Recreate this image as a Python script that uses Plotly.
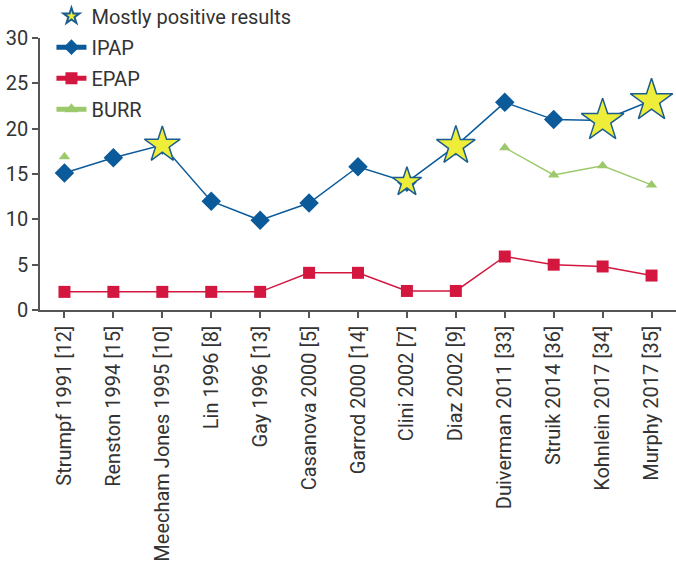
import plotly.graph_objects as go

studies = ["Strumpf 1991 [12]", "Renston 1994 [15]", "Meecham Jones 1995 [10]", "Lin 1996 [8]",
           "Gay 1996 [13]", "Casanova 2000 [5]", "Garrod 2000 [14]", "Clini 2002 [7]", "Diaz 2002 [9]",
           "Duiverman 2011 [33]", "Struik 2014 [36]", "Kohnlein 2017 [34]", "Murphy 2017 [35]"]
ipap = [15.1, 16.8, 18.2, 12.0, 9.9, 11.8, 15.8, 14.1, 18.1, 22.9, 21.0, 20.9, 23.1]
epap = [2.0, 2.0, 2.0, 2.0, 2.0, 4.1, 4.1, 2.1, 2.1, 5.9, 5.0, 4.8, 3.8]
burr = [16.9, None, None, None, None, None, None, None, None, 17.9, 14.9, 15.9, 13.8]
positive = [False, False, True, False, False, False, False, True, True, False, False, True, True]
y_ticks = [0, 5, 10, 15, 20, 25, 30]

star_y = [v if p else None for v, p in zip(ipap, positive)]
# marker sizes of the stars as drawn (style only)
star_sizes = [0, 0, 27, 0, 0, 0, 0, 22, 29, 0, 0, 32, 32]

FONT = "Roboto"
TXT = "#333333"
AX = "#555555"

fig = go.Figure()
fig.add_trace(go.Scatter(
    x=studies, y=ipap, name="IPAP", mode="lines+markers", legendrank=2, legendgroup="b",
    line=dict(color="#0b5a9a", width=1.5),
    marker=dict(symbol="diamond", size=15, color="#0b5a9a"),
))
fig.add_trace(go.Scatter(
    x=studies, y=epap, name="EPAP", mode="lines+markers", legendrank=3, legendgroup="c",
    line=dict(color="#d3173f", width=1.5),
    marker=dict(symbol="square", size=12, color="#d3173f"),
))
fig.add_trace(go.Scatter(
    x=studies, y=burr, name="BURR", mode="lines+markers", legendrank=4, legendgroup="d",
    connectgaps=False,
    line=dict(color="#9cc96b", width=1.5),
    marker=dict(symbol="triangle-up", size=10, color="#9cc96b"),
))
fig.add_trace(go.Scatter(
    x=studies, y=star_y, name="Mostly positive results", mode="markers", legendrank=1,
    legendgroup="a",
    marker=dict(symbol="star", size=star_sizes, color="#eeee3a", opacity=1,
                line=dict(color="#1b5e8e", width=1.5)),
))

fig.update_layout(
    width=676, height=583,
    margin=dict(l=40, r=0, t=38, b=273, autoexpand=False),
    paper_bgcolor="white", plot_bgcolor="white",
    font=dict(family=FONT, size=20, color=TXT),
    showlegend=True,
    legend=dict(x=0.018, y=1.152, xanchor="left", yanchor="top",
                bgcolor="rgba(0,0,0,0)", font=dict(size=20, color=TXT),
                itemsizing="constant", traceorder="grouped", tracegroupgap=2),
    xaxis=dict(type="category", categoryorder="array", categoryarray=studies,
               range=[-0.5, 12.5], tickangle=-90, automargin=False,
               showline=True, linecolor=AX, linewidth=1.5,
               ticks="outside", ticklen=6, tickcolor=AX, tickwidth=1.5,
               showgrid=False, zeroline=False, tickfont=dict(size=20, color=TXT)),
    yaxis=dict(range=[0, 30], tickvals=y_ticks, automargin=False,
               showline=True, linecolor=AX, linewidth=1.5,
               ticks="outside", ticklen=6, tickcolor=AX, tickwidth=1.5,
               showgrid=False, zeroline=False, tickfont=dict(size=20, color=TXT)),
)

fig.write_html("out.html", config={"displayModeBar": False},
               post_script="document.body.style.margin='0';")
